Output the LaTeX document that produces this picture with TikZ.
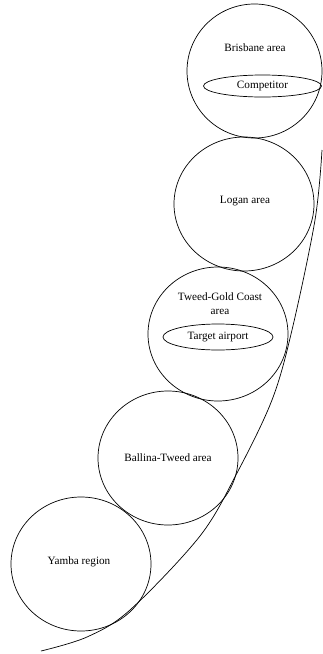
\documentclass[tikz,border=0pt]{standalone}
\usepackage{fontspec}
\setmainfont{Liberation Serif}
\usetikzlibrary{shapes.geometric}
\begin{document}
\begin{tikzpicture}[x=1pt,y=-1pt,
 region/.style={draw, ellipse, line width=0.7pt, minimum width=140pt, minimum height=134pt, inner sep=0pt},
 sub/.style={draw, ellipse, line width=0.7pt, inner sep=0pt, font=\fontsize{11.2}{14}\selectfont},
 lbl/.style={font=\fontsize{11.2}{14}\selectfont, align=center, inner sep=0pt}]
\useasboundingbox (0,0) rectangle (322,654);
% regions
\node[region, minimum width=135pt] (bris) at (254.5,71) {};
\node[region] (logan) at (244,204) {};
\node[region] (tweed) at (218,334) {};
\node[region] (ball) at (168,458) {};
\node[region] (yamba) at (81,564) {};
% labels
\node[lbl] (brist) at (255,48) {Brisbane area};
\node[lbl] (logant) at (245,201) {Logan area};
\node[lbl] (tweedt) at (220,304) {Tweed-Gold Coast\\area};
\node[lbl] (ballt) at (168,458) {Ballina-Tweed area};
\node[lbl] (yambat) at (79,562) {Yamba region};
% inner ellipses
\node[sub, minimum width=118pt, minimum height=22pt] (comp) at (262.5,86) {Competitor};
\node[sub, minimum width=110pt, minimum height=26pt] (target) at (218,337) {Target airport};
% curve
\coordinate (cs) at (41,651);
\coordinate (ce) at (322,150);
\draw[line width=0.7pt] plot[smooth, tension=0.55] coordinates
  {(cs) (87,637) (130,610) (200,536) (237,473) (272,400) (292,330) (315,220) (ce)};
\end{tikzpicture}
\end{document}
